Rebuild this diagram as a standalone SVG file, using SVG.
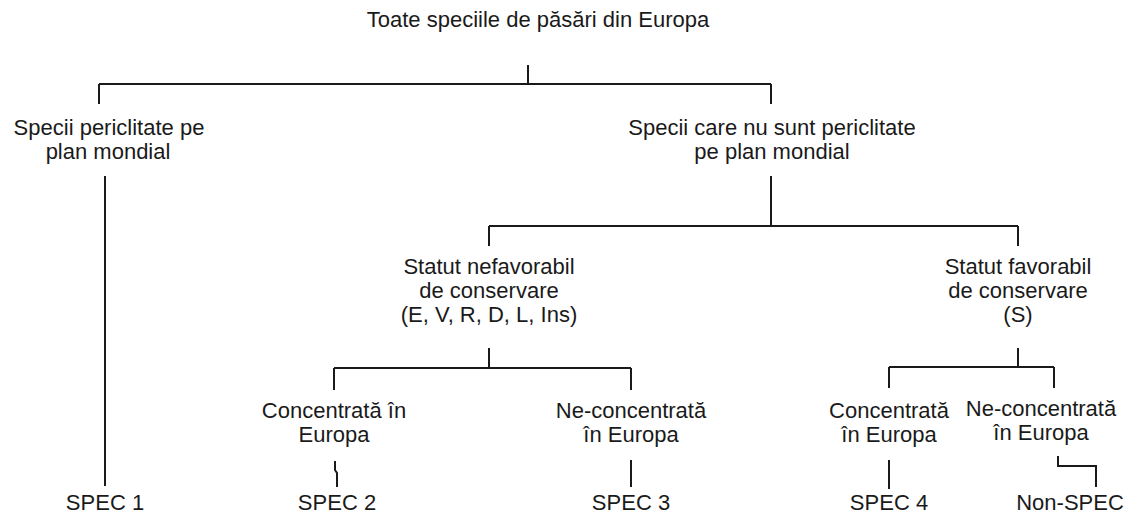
<svg xmlns="http://www.w3.org/2000/svg" width="1133" height="514" viewBox="0 0 1133 514">
<style>
text{font-family:"Liberation Sans",Arial,sans-serif;font-size:22px;fill:#1a1a1a;text-anchor:middle}
.c{fill:none;stroke:#1a1a1a;stroke-width:2}
</style>
<rect width="1133" height="514" fill="#fff"/>
<g id="connectors" class="c">
<path d="M528 65V84M99 84H771M99 84V104M771 84V104"/>
<path d="M105 176V486"/>
<path d="M771 176V226M489 226H1018M489 226V246M1018 226V246"/>
<path d="M489 348V368M334 368H631M334 368V390M631 368V390"/>
<path d="M335 461V470L337 473V487"/>
<path d="M631 460V487"/>
<path d="M1018 348V367M889 367H1054M889 367V388M1054 367V388"/>
<path d="M889 460V489"/>
<path d="M1058 456V466H1096V487"/>
</g>
<g id="root"><text x="538" y="27">Toate speciile de păsări din Europa</text></g>
<g id="periclitate"><text x="109" y="135">Specii periclitate pe</text><text x="108" y="159">plan mondial</text></g>
<g id="nepericlitate"><text x="772" y="135">Specii care nu sunt periclitate</text><text x="772" y="159">pe plan mondial</text></g>
<g id="nefavorabil"><text x="489" y="274">Statut nefavorabil</text><text x="489" y="298">de conservare</text><text x="489" y="322">(E, V, R, D, L, Ins)</text></g>
<g id="favorabil"><text x="1018" y="274">Statut favorabil</text><text x="1018" y="298">de conservare</text><text x="1018" y="322">(S)</text></g>
<g id="conc1"><text x="334" y="418">Concentrată în</text><text x="334" y="442">Europa</text></g>
<g id="neconc1"><text x="631" y="418">Ne-concentrată</text><text x="631" y="442">în Europa</text></g>
<g id="conc2"><text x="889" y="418">Concentrată</text><text x="889" y="442">în Europa</text></g>
<g id="neconc2"><text x="1041" y="416">Ne-concentrată</text><text x="1041" y="440">în Europa</text></g>
<g id="spec1"><text x="105" y="510">SPEC 1</text></g>
<g id="spec2"><text x="337" y="510">SPEC 2</text></g>
<g id="spec3"><text x="631" y="510">SPEC 3</text></g>
<g id="spec4"><text x="889" y="510">SPEC 4</text></g>
<g id="nonspec"><text x="1070" y="510">Non-SPEC</text></g>
</svg>
